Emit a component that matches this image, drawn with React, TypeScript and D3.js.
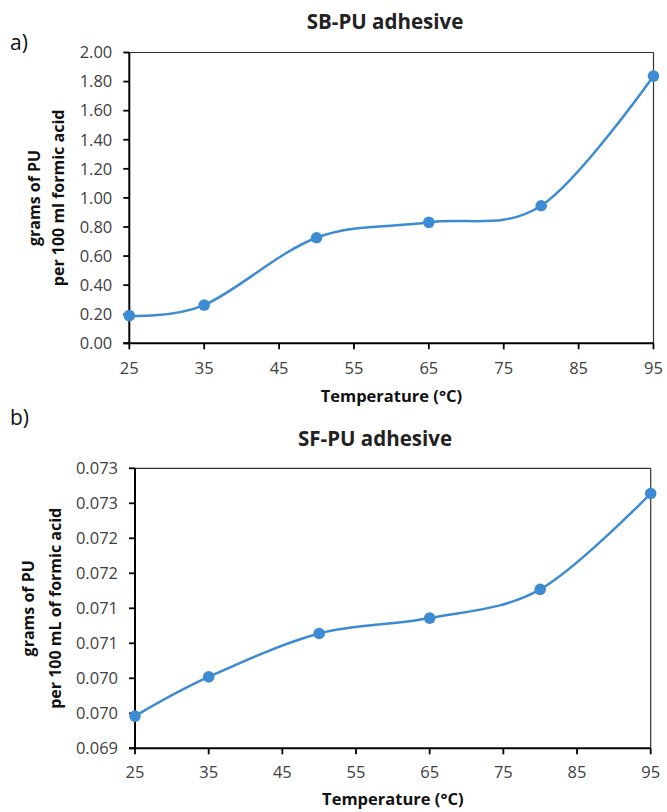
import React from "react";
import * as d3 from "d3";

const temps = [25, 35, 50, 65, 80, 95];
const sbValues = [0.19, 0.263, 0.726, 0.832, 0.946, 1.838];
const sfValues = [0.06946, 0.07002, 0.07064, 0.07086, 0.07127, 0.07264];
const xTicks = [25, 35, 45, 55, 65, 75, 85, 95];
const sbYTicks = [0, 0.2, 0.4, 0.6, 0.8, 1.0, 1.2, 1.4, 1.6, 1.8, 2.0];
const sbYLabels = ["0.00", "0.20", "0.40", "0.60", "0.80", "1.00", "1.20", "1.40", "1.60", "1.80", "2.00"];
const sfYTicks = [0.069, 0.0695, 0.07, 0.0705, 0.071, 0.0715, 0.072, 0.0725, 0.073];
const sfYLabels = ["0.069", "0.070", "0.070", "0.071", "0.071", "0.072", "0.072", "0.073", "0.073"];

const BLUE = "#3d8bd3";
const FONT = "'Open Sans', 'Noto Sans', sans-serif";

type PanelProps = {
  values: number[];
  yTicks: number[];
  yLabels: string[];
  yDomain: [number, number];
  box: { left: number; right: number; top: number; bottom: number };
  title: string;
  titleX: number;
  titleY: number;
  yTitle: [string, string];
  yTitleX: [number, number];
  xTitleY: number;
  xLabelDy: number;
  panelLabel: string;
  panelLabelY: number;
};

function Panel(p: PanelProps) {
  const x = d3.scaleLinear().domain([25, 95]).range([p.box.left, p.box.right]);
  const y = d3.scaleLinear().domain(p.yDomain).range([p.box.bottom, p.box.top]);
  const line = d3
    .line<number>()
    .x((_, i) => x(temps[i]))
    .y((d) => y(d))
    .curve(d3.curveCardinal.tension(0));
  const cy = (p.box.top + p.box.bottom) / 2;
  const cx = (p.box.left + p.box.right) / 2;
  return (
    <g>
      <text x={10} y={p.panelLabelY} fontFamily={FONT} fontSize={21} fill="#111">
        {p.panelLabel}
      </text>
      <text x={p.titleX} y={p.titleY} textAnchor="middle" dominantBaseline="middle" fontFamily={FONT} fontWeight="bold" fontSize={20.5} fill="#222">
        {p.title}
      </text>
      <line x1={p.box.left} x2={p.box.right} y1={p.box.top} y2={p.box.top} stroke="#333" strokeWidth={1.2} />
      <line x1={p.box.right} x2={p.box.right} y1={p.box.top} y2={p.box.bottom} stroke="#333" strokeWidth={1.2} />
      {p.yTicks.map((t, i) => (
        <g key={"y" + i}>
          <line x1={p.box.left - 6} x2={p.box.left} y1={y(t)} y2={y(t)} stroke="#000" strokeWidth={1.8} />
          <text x={p.box.left - 17} y={y(t)} dy="0.35em" textAnchor="end" fontFamily={FONT} fontSize={16.5} fill="#404040">
            {p.yLabels[i]}
          </text>
        </g>
      ))}
      {xTicks.map((t) => (
        <g key={"x" + t}>
          <line x1={x(t)} x2={x(t)} y1={p.box.bottom} y2={p.box.bottom + 6} stroke="#000" strokeWidth={1.8} />
          <text x={x(t)} y={p.box.bottom + p.xLabelDy} dy="0.35em" textAnchor="middle" fontFamily={FONT} fontSize={16.5} fill="#404040">
            {t}
          </text>
        </g>
      ))}
      <line x1={p.box.left} x2={p.box.left} y1={p.box.top} y2={p.box.bottom} stroke="#000" strokeWidth={2} />
      <line x1={p.box.left - 6} x2={p.box.right} y1={p.box.bottom} y2={p.box.bottom} stroke="#000" strokeWidth={2} />
      <text x={cx} y={p.xTitleY} textAnchor="middle" dominantBaseline="middle" fontFamily={FONT} fontWeight="bold" fontSize={16.5} fill="#111">
        Temperature (°C)
      </text>
      {p.yTitle.map((s, i) => (
        <text
          key={s}
          transform={`translate(${p.yTitleX[i]},${cy}) rotate(-90)`}
          textAnchor="middle"
          dominantBaseline="middle"
          fontFamily={FONT}
          fontWeight="bold"
          fontSize={16}
          fill="#111"
        >
          {s}
        </text>
      ))}
      <path d={line(p.values) || ""} fill="none" stroke={BLUE} strokeWidth={2.5} />
      {p.values.map((v, i) => (
        <circle key={"c" + i} cx={x(temps[i])} cy={y(v)} r={5.8} fill={BLUE} />
      ))}
    </g>
  );
}

export default function App() {
  return (
    <svg width={667} height={812} style={{ position: "absolute", left: 0, top: 0, background: "#fff" }}>
      <rect width={667} height={812} fill="#fff" />
      <Panel
        values={sbValues}
        yTicks={sbYTicks}
        yLabels={sbYLabels}
        yDomain={[0, 2]}
        box={{ left: 129.3, right: 653.5, top: 52.5, bottom: 343.3 }}
        title="SB-PU adhesive"
        titleX={385}
        titleY={24}
        yTitle={["grams of PU", "per 100 ml formic acid"]}
        yTitleX={[36, 60]}
        xTitleY={398}
        xLabelDy={25}
        panelLabel="a)"
        panelLabelY={50}
      />
      <Panel
        values={sfValues}
        yTicks={sfYTicks}
        yLabels={sfYLabels}
        yDomain={[0.069, 0.073]}
        box={{ left: 135, right: 650.7, top: 468.3, bottom: 748.3 }}
        title="SF-PU adhesive"
        titleX={375}
        titleY={441}
        yTitle={["grams of PU", "per 100 mL of formic acid"]}
        yTitleX={[30, 57]}
        xTitleY={801}
        xLabelDy={23.5}
        panelLabel="b)"
        panelLabelY={425}
      />
    </svg>
  );
}
